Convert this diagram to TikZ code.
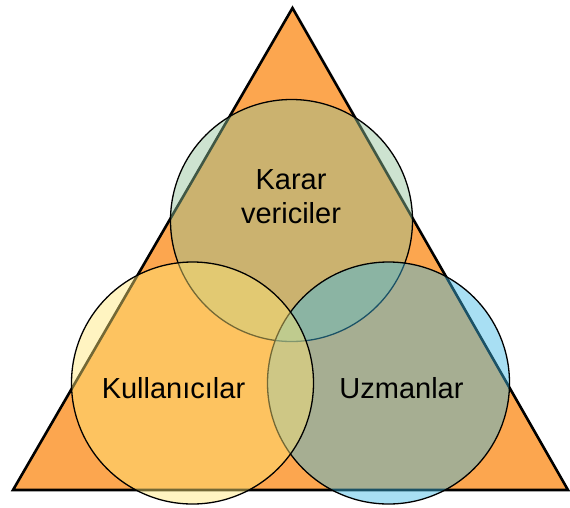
\documentclass[tikz,border=0pt]{standalone}
\usepackage{fontspec}
\setmainfont{Liberation Sans}
\definecolor{triorange}{RGB}{252,166,79}
\definecolor{topgreen}{RGB}{144,193,151}
\definecolor{leftyellow}{RGB}{255,231,118}
\definecolor{rightblue}{RGB}{62,184,228}
\begin{document}
\begin{tikzpicture}[x=1pt,y=-1pt,
  tri/.style={fill=triorange,draw=black,line width=2.6pt,line join=miter},
  venn/.style={draw=black,line width=1.3pt,fill opacity=0.45},
  lbl/.style={font=\fontsize{29}{34}\selectfont,inner sep=0pt,align=center,text=black}]
\useasboundingbox (0,0) rectangle (570,507);
\coordinate (apex) at (292.5,8);
\coordinate (bl) at (13,490);
\coordinate (br) at (568,490);
\draw[tri] (apex) -- (bl) -- (br) -- cycle;
\node[venn,fill=topgreen,circle,minimum size=242pt,inner sep=0pt] (top) at (291.5,220.5) {};
\node[venn,fill=rightblue,circle,minimum size=242pt,inner sep=0pt] (right) at (388.5,383) {};
\node[venn,fill=leftyellow,circle,minimum size=242pt,inner sep=0pt] (left) at (192.5,383) {};
\node[lbl] (tlbl) at (291,197) {Karar\\vericiler};
\node[lbl,anchor=base] (llbl) at (173.5,398) {Kullanıcılar};
\node[lbl,anchor=base] (rlbl) at (401.5,398) {Uzmanlar};
\end{tikzpicture}
\end{document}
